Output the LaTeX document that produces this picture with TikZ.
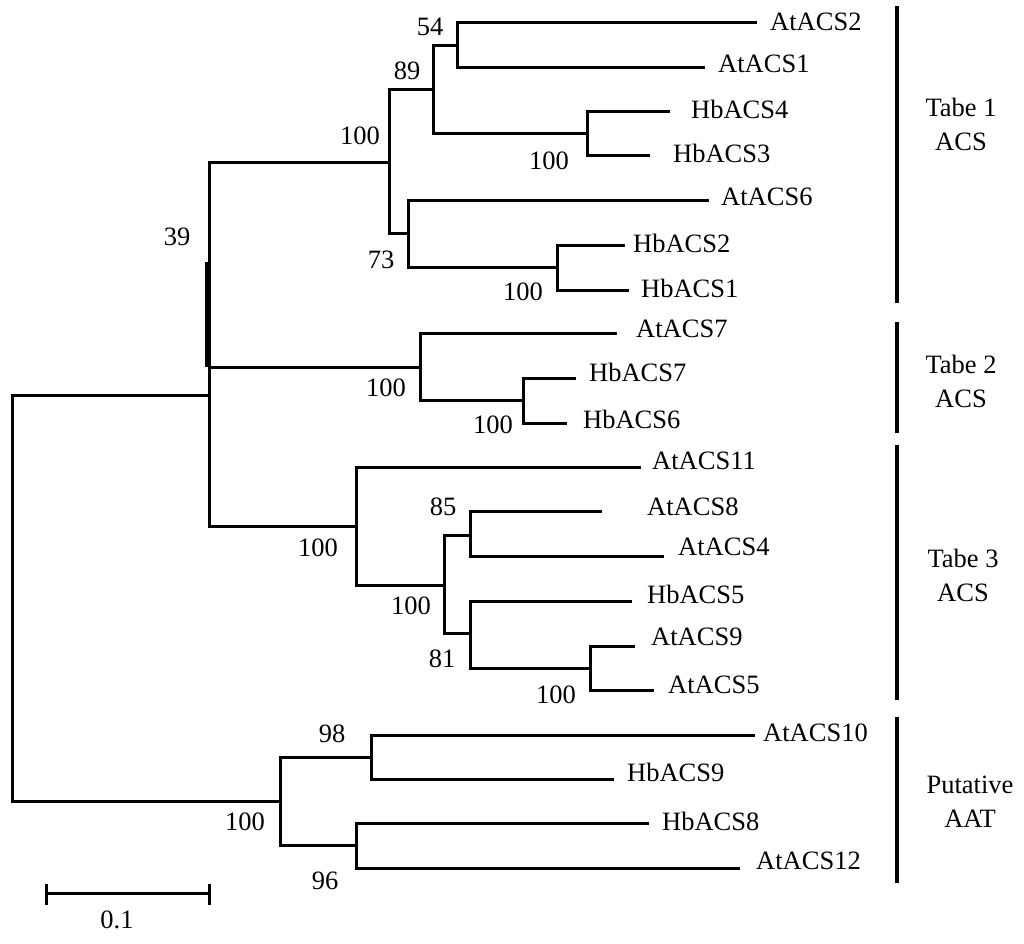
\documentclass[tikz,border=0pt]{standalone}
\usepackage{fontspec}
\setmainfont{Liberation Serif}
\begin{document}
\begin{tikzpicture}[x=1pt,y=-1pt,
  br/.style={line width=3pt, line join=miter, line cap=rect},
  lab/.style={anchor=west, inner sep=0pt, font=\fontsize{26.5}{30}\selectfont},
  bs/.style={inner sep=0pt, font=\fontsize{26.5}{30}\selectfont},
  grp/.style={inner sep=0pt, align=center, font=\fontsize{26.5}{34}\selectfont},
  bar/.style={line width=4pt}]
\useasboundingbox (0,0) rectangle (1024,943);
% internal nodes
\coordinate (root) at (12,598);
\coordinate (nI) at (209,395);
\coordinate (nT1) at (389,162);
\coordinate (n89) at (433,89);
\coordinate (n54) at (457,45);
\coordinate (n43) at (587,133);
\coordinate (n73) at (408,233);
\coordinate (n21) at (557,267);
\coordinate (nT2) at (420,367);
\coordinate (n76) at (523,400);
\coordinate (nT3) at (356,526);
\coordinate (nA) at (444,585);
\coordinate (n85) at (470,535);
\coordinate (n81) at (470,633);
\coordinate (n95) at (590,668);
\coordinate (nAAT) at (280,801);
\coordinate (n98) at (371,757);
\coordinate (n96) at (356,845);
% tips
\coordinate (tAt2) at (755,22);
\coordinate (tAt1) at (703,67);
\coordinate (tHb4) at (668,111);
\coordinate (tHb3) at (648,155);
\coordinate (tAt6) at (707,200);
\coordinate (tHb2) at (623,245);
\coordinate (tHb1) at (627,290);
\coordinate (tAt7) at (615,333);
\coordinate (tHb7) at (574,378);
\coordinate (tHb6) at (565,423);
\coordinate (tAt11) at (639,467);
\coordinate (tAt8) at (600,511);
\coordinate (tAt4) at (662,556);
\coordinate (tHb5) at (630,601);
\coordinate (tAt9) at (633,646);
\coordinate (tAt5) at (652,690);
\coordinate (tAt10) at (753,735);
\coordinate (tHb9) at (612,779);
\coordinate (tHb8) at (647,823);
\coordinate (tAt12) at (738,868);
% branches
\draw[br] (root) |- (nI);
\draw[br] (root) |- (nAAT);
\draw[br] (nI) |- (nT1);
\draw[br] (nI) |- (nT2);
\draw[br] (nI) |- (nT3);
\draw[br] (nT1) |- (n89);
\draw[br] (nT1) |- (n73);
\draw[br] (n89) |- (n54);
\draw[br] (n89) |- (n43);
\draw[br] (n54) |- (tAt2);
\draw[br] (n54) |- (tAt1);
\draw[br] (n43) |- (tHb4);
\draw[br] (n43) |- (tHb3);
\draw[br] (n73) |- (tAt6);
\draw[br] (n73) |- (n21);
\draw[br] (n21) |- (tHb2);
\draw[br] (n21) |- (tHb1);
\draw[br] (nT2) |- (tAt7);
\draw[br] (nT2) |- (n76);
\draw[br] (n76) |- (tHb7);
\draw[br] (n76) |- (tHb6);
\draw[br] (nT3) |- (tAt11);
\draw[br] (nT3) |- (nA);
\draw[br] (nA) |- (n85);
\draw[br] (nA) |- (n81);
\draw[br] (n85) |- (tAt8);
\draw[br] (n85) |- (tAt4);
\draw[br] (n81) |- (tHb5);
\draw[br] (n81) |- (n95);
\draw[br] (n95) |- (tAt9);
\draw[br] (n95) |- (tAt5);
\draw[br] (nAAT) |- (n98);
\draw[br] (nAAT) |- (n96);
\draw[br] (n98) |- (tAt10);
\draw[br] (n98) |- (tHb9);
\draw[br] (n96) |- (tHb8);
\draw[br] (n96) |- (tAt12);
% thick segment on node 39 branch
\coordinate (thA) at (208,262);
\coordinate (thB) at (208,367);
\draw[line width=5.5pt] (thA) -- (thB);
% tip labels
\node[lab] (lAt2) at (770,22) {AtACS2};
\node[lab] (lAt1) at (718,64) {AtACS1};
\node[lab] (lHb4) at (691,109) {HbACS4};
\node[lab] (lHb3) at (673,153) {HbACS3};
\node[lab] (lAt6) at (721,197) {AtACS6};
\node[lab] (lHb2) at (633,243) {HbACS2};
\node[lab] (lHb1) at (641,288) {HbACS1};
\node[lab] (lAt7) at (636,329) {AtACS7};
\node[lab] (lHb7) at (589,372) {HbACS7};
\node[lab] (lHb6) at (583,419) {HbACS6};
\node[lab] (lAt11) at (652,461) {AtACS11};
\node[lab] (lAt8) at (647,507) {AtACS8};
\node[lab] (lAt4) at (678,547) {AtACS4};
\node[lab] (lHb5) at (647,594) {HbACS5};
\node[lab] (lAt9) at (651,637) {AtACS9};
\node[lab] (lAt5) at (668,685) {AtACS5};
\node[lab] (lAt10) at (763,733) {AtACS10};
\node[lab] (lHb9) at (627,772) {HbACS9};
\node[lab] (lHb8) at (662,821) {HbACS8};
\node[lab] (lAt12) at (756,861) {AtACS12};
% bootstrap values
\node[bs] (b54) at (430,27) {54};
\node[bs] (b89) at (407,71) {89};
\node[bs] (bT1) at (360,136) {100};
\node[bs] (b39) at (177,237) {39};
\node[bs] (b73) at (381,260) {73};
\node[bs] (b43) at (549,161) {100};
\node[bs] (b21) at (523,292) {100};
\node[bs] (bT2) at (386,388) {100};
\node[bs] (b76) at (493,425) {100};
\node[bs] (bT3) at (318,548) {100};
\node[bs] (b85) at (443,507) {85};
\node[bs] (bA) at (411,606) {100};
\node[bs] (b81) at (442,659) {81};
\node[bs] (b95) at (556,695) {100};
\node[bs] (b98) at (332,734) {98};
\node[bs] (bAAT) at (245,822) {100};
\node[bs] (b96) at (325,881) {96};
% scale bar
\coordinate (sbL) at (46,893);
\coordinate (sbR) at (209,893);
\coordinate (sbLt) at (46,884);
\coordinate (sbLb) at (46,905);
\coordinate (sbRt) at (209,884);
\coordinate (sbRb) at (209,905);
\draw[br, line cap=butt] (sbL) -- (sbR);
\draw[br, line cap=butt] (sbLt) -- (sbLb);
\draw[br, line cap=butt] (sbRt) -- (sbRb);
\node[bs] (sbLab) at (117,920) {0.1};
% group bars
\coordinate (g1a) at (897,6);
\coordinate (g1b) at (897,303);
\coordinate (g2a) at (897,322);
\coordinate (g2b) at (897,433);
\coordinate (g3a) at (897,445);
\coordinate (g3b) at (897,700);
\coordinate (g4a) at (897,717);
\coordinate (g4b) at (897,883);
\draw[bar] (g1a) -- (g1b);
\draw[bar] (g2a) -- (g2b);
\draw[bar] (g3a) -- (g3b);
\draw[bar] (g4a) -- (g4b);
\node[grp] (G1) at (961,124) {Tabe 1\\ACS};
\node[grp] (G2) at (961,381) {Tabe 2\\ACS};
\node[grp] (G3) at (963,575) {Tabe 3\\ACS};
\node[grp] (G4) at (970,802) {Putative\\AAT};
\end{tikzpicture}
\end{document}
